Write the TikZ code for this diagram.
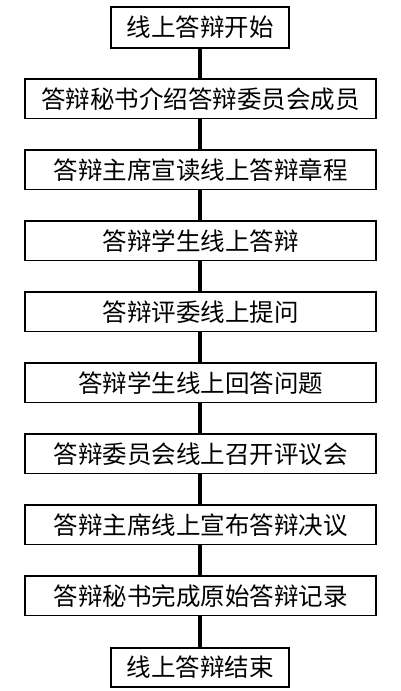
\documentclass[tikz,border=0pt]{standalone}
\usepackage{fontspec}
\setmainfont{Noto Sans CJK SC}
\begin{document}
\begin{tikzpicture}[x=1pt,y=-1pt,
  stepbox/.style={draw=black,line width=1.8pt,minimum height=39.5pt,inner sep=0pt,font=\fontsize{24.5}{27}\selectfont},
  widebox/.style={stepbox,minimum width=351pt},
  narrowbox/.style={stepbox,minimum width=178pt},
  conn/.style={line width=3.2pt}]
\useasboundingbox (0,0) rectangle (400,691);
\node[narrowbox,minimum height=41pt] (n1) at (200,27.5) {线上答辩开始};
\node[widebox] (n2) at (200.5,98.75) {答辩秘书介绍答辩委员会成员};
\node[widebox] (n3) at (200.5,169.75) {答辩主席宣读线上答辩章程};
\node[widebox] (n4) at (200.5,240.75) {答辩学生线上答辩};
\node[widebox] (n5) at (200.5,311.75) {答辩评委线上提问};
\node[widebox] (n6) at (200.5,382.75) {答辩学生线上回答问题};
\node[widebox] (n7) at (200.5,453.75) {答辩委员会线上召开评议会};
\node[widebox] (n8) at (200.5,524.75) {答辩主席线上宣布答辩决议};
\node[widebox] (n9) at (200.5,595.75) {答辩秘书完成原始答辩记录};
\node[narrowbox] (n10) at (200,667.5) {线上答辩结束};
\foreach \a/\b in {n1/n2,n2/n3,n3/n4,n4/n5,n5/n6,n6/n7,n7/n8,n8/n9,n9/n10}
  \draw[conn] (\a.south -| 200,0) -- (\b.north -| 200,0);
\end{tikzpicture}
\end{document}
